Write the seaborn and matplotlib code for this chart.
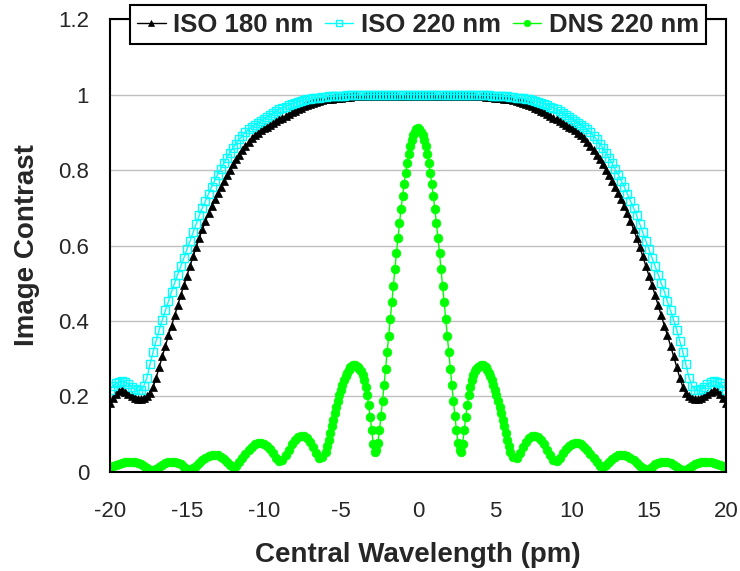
import numpy as np
import seaborn as sns
import matplotlib.pyplot as plt

# wavelength grids (pm)
x_iso = np.round(np.linspace(-20, 20, 201), 1)
x_dns_left = np.round(np.linspace(-20, -6.2, 70), 1)
x_dns_core = np.round(np.linspace(-6, 6, 121), 1)
x_dns_right = np.round(np.linspace(6.2, 20, 70), 1)

iso180 = [
    0.182, 0.195, 0.207, 0.214, 0.216, 0.213, 0.207, 0.200, 0.196, 0.194,
    0.194, 0.195, 0.200, 0.210, 0.225, 0.250, 0.278, 0.307, 0.335, 0.362,
    0.388, 0.415, 0.442, 0.468, 0.495, 0.520, 0.546, 0.571, 0.596, 0.620,
    0.643, 0.664, 0.685, 0.704, 0.722, 0.739, 0.755, 0.771, 0.786, 0.801,
    0.815, 0.829, 0.841, 0.853, 0.864, 0.874, 0.884, 0.892, 0.899, 0.905,
    0.910, 0.915, 0.920, 0.925, 0.930, 0.934, 0.938, 0.943, 0.948, 0.953,
    0.957, 0.961, 0.965, 0.969, 0.972, 0.975, 0.978, 0.981, 0.983, 0.985,
    0.987, 0.988, 0.989, 0.990, 0.991, 0.992, 0.993, 0.994, 0.994, 0.995,
    0.995, 0.996, 0.996, 0.996, 0.997, 0.997, 0.997, 0.997, 0.997, 0.997,
    0.997, 0.997, 0.997, 0.997, 0.997, 0.997, 0.997, 0.997, 0.997, 0.997,
    0.997,
    0.997, 0.997, 0.997, 0.997, 0.997, 0.997, 0.997, 0.997, 0.997, 0.997,
    0.997, 0.997, 0.997, 0.997, 0.997, 0.997, 0.996, 0.996, 0.996, 0.995,
    0.995, 0.994, 0.994, 0.993, 0.992, 0.991, 0.990, 0.989, 0.988, 0.987,
    0.985, 0.983, 0.981, 0.978, 0.975, 0.972, 0.969, 0.965, 0.961, 0.957,
    0.953, 0.948, 0.943, 0.938, 0.934, 0.930, 0.925, 0.920, 0.915, 0.910,
    0.905, 0.899, 0.892, 0.884, 0.874, 0.864, 0.853, 0.841, 0.829, 0.815,
    0.801, 0.786, 0.771, 0.755, 0.739, 0.722, 0.704, 0.685, 0.664, 0.643,
    0.620, 0.596, 0.571, 0.546, 0.520, 0.495, 0.468, 0.442, 0.415, 0.388,
    0.362, 0.335, 0.307, 0.278, 0.250, 0.225, 0.210, 0.200, 0.195, 0.194,
    0.194, 0.196, 0.200, 0.207, 0.213, 0.216, 0.214, 0.207, 0.195, 0.182,
]

iso220 = [
    0.218, 0.228, 0.235, 0.239, 0.240, 0.238, 0.233, 0.226, 0.220, 0.216,
    0.216, 0.228, 0.250, 0.285, 0.318, 0.348, 0.377, 0.403, 0.428, 0.452,
    0.478, 0.500, 0.523, 0.545, 0.567, 0.590, 0.612, 0.635, 0.657, 0.680,
    0.700, 0.718, 0.737, 0.755, 0.772, 0.788, 0.803, 0.818, 0.832, 0.846,
    0.859, 0.870, 0.881, 0.891, 0.900, 0.908, 0.914, 0.920, 0.925, 0.931,
    0.936, 0.941, 0.946, 0.951, 0.956, 0.961, 0.965, 0.968, 0.972, 0.975,
    0.978, 0.981, 0.983, 0.985, 0.987, 0.989, 0.990, 0.991, 0.992, 0.993,
    0.994, 0.995, 0.995, 0.996, 0.996, 0.997, 0.997, 0.998, 0.998, 0.998,
    0.999, 0.999, 0.999, 0.999, 1.000, 1.000, 1.000, 1.000, 1.000, 1.000,
    1.000, 1.000, 1.000, 1.000, 1.000, 1.000, 1.000, 1.000, 1.000, 1.000,
    1.000,
    1.000, 1.000, 1.000, 1.000, 1.000, 1.000, 1.000, 1.000, 1.000, 1.000,
    1.000, 1.000, 1.000, 1.000, 1.000, 1.000, 0.999, 0.999, 0.999, 0.999,
    0.998, 0.998, 0.998, 0.997, 0.997, 0.996, 0.996, 0.995, 0.995, 0.994,
    0.993, 0.992, 0.991, 0.990, 0.989, 0.987, 0.985, 0.983, 0.981, 0.978,
    0.975, 0.972, 0.968, 0.965, 0.961, 0.956, 0.951, 0.946, 0.941, 0.936,
    0.931, 0.925, 0.920, 0.914, 0.908, 0.900, 0.891, 0.881, 0.870, 0.859,
    0.846, 0.832, 0.818, 0.803, 0.788, 0.772, 0.755, 0.737, 0.718, 0.700,
    0.680, 0.657, 0.635, 0.612, 0.590, 0.567, 0.545, 0.523, 0.500, 0.478,
    0.452, 0.428, 0.403, 0.377, 0.348, 0.318, 0.285, 0.250, 0.228, 0.216,
    0.216, 0.220, 0.226, 0.233, 0.238, 0.240, 0.239, 0.235, 0.228, 0.218,
]

dns_left = [
    0.013, 0.015, 0.018, 0.021, 0.024, 0.026, 0.027, 0.027, 0.026, 0.024,
    0.020, 0.016, 0.011, 0.006, 0.005, 0.008, 0.013, 0.018, 0.023, 0.026,
    0.027, 0.026, 0.024, 0.020, 0.014, 0.008, 0.006, 0.010, 0.017, 0.024,
    0.031, 0.037, 0.042, 0.045, 0.045, 0.044, 0.041, 0.035, 0.027, 0.018,
    0.012, 0.016, 0.026, 0.037, 0.048, 0.058, 0.067, 0.073, 0.076, 0.076,
    0.074, 0.069, 0.061, 0.050, 0.037, 0.028, 0.032, 0.045, 0.059, 0.073,
    0.085, 0.093, 0.096, 0.095, 0.090, 0.080, 0.066, 0.050, 0.037, 0.041,
]

dns_core = [
    0.053, 0.068, 0.085, 0.103, 0.121, 0.139, 0.156, 0.173, 0.189, 0.204,
    0.218, 0.231, 0.243, 0.254, 0.263, 0.271, 0.277, 0.281, 0.283, 0.284,
    0.282, 0.279, 0.274, 0.267, 0.257, 0.243, 0.226, 0.205, 0.178, 0.145,
    0.110, 0.075, 0.052, 0.058, 0.078, 0.110, 0.148, 0.188, 0.230, 0.273,
    0.317, 0.361, 0.406, 0.450, 0.494, 0.537, 0.579, 0.620, 0.659, 0.696,
    0.731, 0.763, 0.793, 0.819, 0.843, 0.863, 0.880, 0.893, 0.902, 0.908,
    0.910,
    0.908, 0.902, 0.893, 0.880, 0.863, 0.843, 0.819, 0.793, 0.763, 0.731,
    0.696, 0.659, 0.620, 0.579, 0.537, 0.494, 0.450, 0.406, 0.361, 0.317,
    0.273, 0.230, 0.188, 0.148, 0.110, 0.078, 0.058, 0.052, 0.075, 0.110,
    0.145, 0.178, 0.205, 0.226, 0.243, 0.257, 0.267, 0.274, 0.279, 0.282,
    0.284, 0.283, 0.281, 0.277, 0.271, 0.263, 0.254, 0.243, 0.231, 0.218,
    0.204, 0.189, 0.173, 0.156, 0.139, 0.121, 0.103, 0.085, 0.068, 0.053,
]

dns_right = [
    0.041, 0.037, 0.050, 0.066, 0.080, 0.090, 0.095, 0.096, 0.093, 0.085,
    0.073, 0.059, 0.045, 0.032, 0.028, 0.037, 0.050, 0.061, 0.069, 0.074,
    0.076, 0.076, 0.073, 0.067, 0.058, 0.048, 0.037, 0.026, 0.016, 0.012,
    0.018, 0.027, 0.035, 0.041, 0.044, 0.045, 0.045, 0.042, 0.037, 0.031,
    0.024, 0.017, 0.010, 0.006, 0.008, 0.014, 0.020, 0.024, 0.026, 0.027,
    0.026, 0.023, 0.018, 0.013, 0.008, 0.005, 0.006, 0.011, 0.016, 0.020,
    0.024, 0.026, 0.027, 0.027, 0.026, 0.024, 0.021, 0.018, 0.015, 0.013,
]

x_dns = np.concatenate([x_dns_left, x_dns_core, x_dns_right])
dns220 = dns_left + dns_core + dns_right

yticks = [0, 0.2, 0.4, 0.6, 0.8, 1.0, 1.2]
ytick_labels = ["0", "0.2", "0.4", "0.6", "0.8", "1", "1.2"]
xticks = [-20, -15, -10, -5, 0, 5, 10, 15, 20]

sns.set_style("white")
plt.rcParams['font.family'] = ['Liberation Sans', 'DejaVu Sans']

fig, ax = plt.subplots(figsize=(7.4, 5.71), dpi=100)
fig.subplots_adjust(left=0.1486, right=0.981, top=0.9667, bottom=0.1734)

sns.lineplot(x=x_iso, y=iso180, ax=ax, color="black", lw=1, marker="^",
             markersize=6, markerfacecolor="black", markeredgecolor="black",
             markeredgewidth=0.5, label="ISO 180 nm", estimator=None, sort=False)
sns.lineplot(x=x_iso, y=iso220, ax=ax, color="#00ffff", lw=1, marker="s",
             markersize=6, markerfacecolor="none", markeredgecolor="#00ffff",
             markeredgewidth=1, label="ISO 220 nm", estimator=None, sort=False)
sns.lineplot(x=x_dns, y=dns220, ax=ax, color="#00ff00", lw=1, marker="o",
             markersize=6.3, markerfacecolor="#00ff00", markeredgecolor="#00ff00",
             markeredgewidth=0.5, label="DNS 220 nm", estimator=None, sort=False)

ax.set_xlim(-20, 20)
ax.set_ylim(0, 1.2)
ax.set_xticks(xticks)
ax.set_xticklabels([str(t) for t in xticks])
ax.set_yticks(yticks)
ax.set_yticklabels(ytick_labels)
ax.yaxis.grid(True, color="#c0c0c0", lw=1)
ax.xaxis.grid(False)
ax.set_axisbelow(True)

for s in ax.spines.values():
    s.set_color("black")
    s.set_linewidth(1.5)
    s.set_visible(True)

ax.tick_params(axis="both", direction="out", length=6, width=1.2, color="black",
               labelsize=16)
ax.tick_params(axis="x", pad=15)
ax.tick_params(axis="y", pad=9)

ax.set_xlabel("Central Wavelength (pm)", fontsize=20, fontweight="bold", labelpad=14)
ax.set_ylabel("Image Contrast", fontsize=20, fontweight="bold", labelpad=13)

leg = ax.legend(loc="upper center", bbox_to_anchor=(0.5, 1.031), ncol=3,
                frameon=True, fancybox=False, framealpha=1, borderaxespad=0,
                prop={"weight": "bold", "size": 18.5}, handlelength=1.1,
                handletextpad=0.3, columnspacing=0.45, borderpad=0.3,
                markerscale=0.75)
leg.get_frame().set_edgecolor("black")
leg.get_frame().set_linewidth(1.5)

plt.savefig("out.png", dpi=100)
